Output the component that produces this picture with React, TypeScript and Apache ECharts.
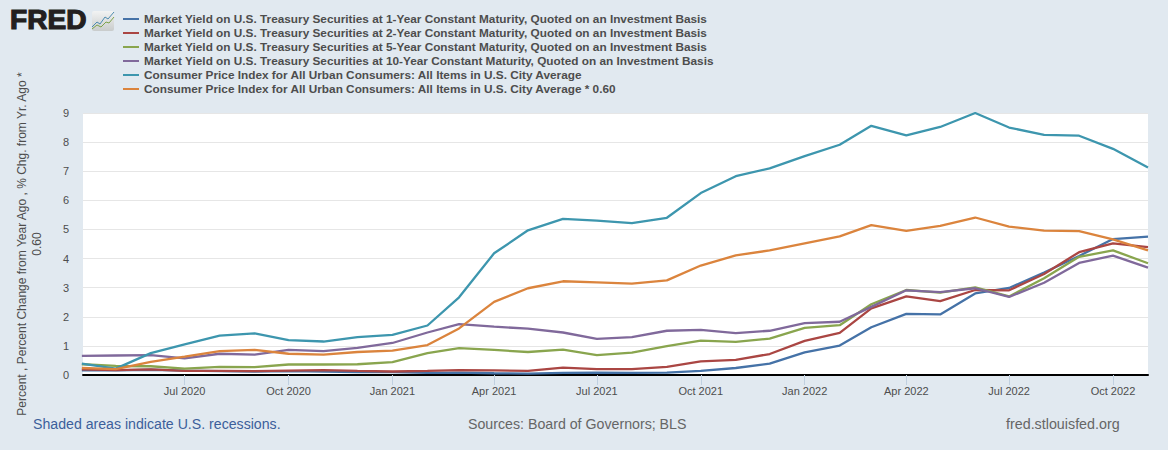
import React, { useEffect, useRef } from "react";
import * as echarts from "echarts";

const months = [
  "2020-04-01","2020-05-01","2020-06-01","2020-07-01","2020-08-01","2020-09-01","2020-10-01","2020-11-01","2020-12-01",
  "2021-01-01","2021-02-01","2021-03-01","2021-04-01","2021-05-01","2021-06-01","2021-07-01","2021-08-01","2021-09-01","2021-10-01","2021-11-01","2021-12-01",
  "2022-01-01","2022-02-01","2022-03-01","2022-04-01","2022-05-01","2022-06-01","2022-07-01","2022-08-01","2022-09-01","2022-10-01","2022-11-01",
];
const tickDates = ["2020-07-01","2020-10-01","2021-01-01","2021-04-01","2021-07-01","2021-10-01","2022-01-01","2022-04-01","2022-07-01","2022-10-01"];
const tickLabels = ["Jul 2020","Oct 2020","Jan 2021","Apr 2021","Jul 2021","Oct 2021","Jan 2022","Apr 2022","Jul 2022","Oct 2022"];

const y1 = [0.16,0.16,0.18,0.15,0.13,0.12,0.13,0.12,0.1,0.1,0.07,0.08,0.06,0.05,0.07,0.08,0.07,0.08,0.14,0.24,0.39,0.78,1.01,1.64,2.1,2.08,2.8,2.99,3.52,4.09,4.67,4.75];
const y2 = [0.19,0.17,0.19,0.14,0.14,0.13,0.15,0.17,0.14,0.12,0.14,0.17,0.16,0.14,0.25,0.2,0.2,0.28,0.47,0.52,0.72,1.17,1.45,2.29,2.7,2.54,2.92,2.91,3.47,4.22,4.52,4.39];
const y5 = [0.37,0.31,0.3,0.22,0.28,0.27,0.36,0.36,0.37,0.44,0.75,0.92,0.86,0.79,0.87,0.68,0.77,0.99,1.18,1.14,1.25,1.62,1.71,2.43,2.92,2.83,3.01,2.7,3.32,4.06,4.28,3.84];
const y10 = [0.66,0.67,0.68,0.57,0.73,0.7,0.86,0.82,0.93,1.1,1.46,1.75,1.66,1.59,1.46,1.24,1.3,1.52,1.55,1.44,1.52,1.78,1.83,2.34,2.91,2.85,2.98,2.68,3.17,3.85,4.1,3.69];
const cpi = [0.39,0.22,0.75,1.05,1.35,1.43,1.2,1.15,1.3,1.38,1.7,2.67,4.18,4.97,5.36,5.3,5.22,5.4,6.25,6.83,7.1,7.52,7.91,8.56,8.23,8.52,9.0,8.5,8.25,8.22,7.77,7.13];
const cpi60 = [0.24,0.2,0.45,0.63,0.82,0.86,0.73,0.7,0.79,0.84,1.03,1.6,2.51,2.98,3.22,3.18,3.14,3.25,3.76,4.11,4.28,4.52,4.76,5.15,4.95,5.12,5.41,5.1,4.96,4.94,4.66,4.28];

const seriesNames = [
  "Market Yield on U.S. Treasury Securities at 1-Year Constant Maturity, Quoted on an Investment Basis",
  "Market Yield on U.S. Treasury Securities at 2-Year Constant Maturity, Quoted on an Investment Basis",
  "Market Yield on U.S. Treasury Securities at 5-Year Constant Maturity, Quoted on an Investment Basis",
  "Market Yield on U.S. Treasury Securities at 10-Year Constant Maturity, Quoted on an Investment Basis",
  "Consumer Price Index for All Urban Consumers: All Items in U.S. City Average",
  "Consumer Price Index for All Urban Consumers: All Items in U.S. City Average * 0.60",
];
const seriesValues = [y1, y2, y5, y10, cpi, cpi60];
const colors = ["#4572a7", "#aa4643", "#89a54e", "#80699b", "#3d96ae", "#db843d"];
const yAxisTitle = "Percent , Percent Change from Year Ago , % Chg. from Yr. Ago *\n0.60";
const FONT = '"Liberation Sans", Arial, sans-serif';

const ms = (d: string) => Date.parse(d);
const tickMs = tickDates.map(ms);

export default function App() {
  const ref = useRef<HTMLDivElement>(null);
  useEffect(() => {
    const chart = echarts.init(ref.current!, null, { renderer: "svg" });
    chart.setOption({
      animation: false,
      backgroundColor: "#e1e9f0",
      textStyle: { fontFamily: FONT },
      color: colors,
      grid: { left: 83, right: 20, top: 113, bottom: 75, show: true, backgroundColor: "#ffffff", borderWidth: 0, outerBoundsMode: "none", containLabel: false },
      legend: {
        orient: "vertical",
        left: 123,
        top: 13,
        itemGap: 2,
        itemWidth: 16,
        itemHeight: 2,
        icon: "rect",
        selectedMode: false,
        textStyle: { color: "#4d4d4d", fontWeight: "bold", fontSize: 11.8, fontFamily: FONT, lineHeight: 12 },
        padding: 0,
      },
      xAxis: {
        type: "value",
        min: ms("2020-04-02"),
        max: ms(months[months.length - 1]),
        axisLine: { show: true, onZero: false, lineStyle: { color: "#000000", width: 2 } },
        axisTick: { show: true, length: 10, customValues: tickMs, lineStyle: { color: "#c0d0e0", width: 1 } },
        axisLabel: {
          customValues: tickMs,
          color: "#4d4d4d",
          fontSize: 11,
          margin: 10,
          formatter: (v: number) => tickLabels[tickMs.indexOf(v)] ?? "",
        },
        splitLine: { show: false },
      },
      yAxis: {
        type: "value",
        min: 0,
        max: 9,
        interval: 1,
        name: yAxisTitle,
        nameLocation: "middle",
        nameGap: 39,
        nameRotate: 90,
        nameTextStyle: { color: "#4d4d4d", fontSize: 12, lineHeight: 15, fontFamily: FONT },
        axisLine: { show: false },
        axisTick: { show: false },
        axisLabel: { color: "#4d4d4d", fontSize: 11, margin: 14 },
        splitLine: { show: true, lineStyle: { color: "#e6e6e6", width: 1 } },
      },
      series: seriesNames.map((name, i) => ({
        name,
        type: "line",
        showSymbol: false,
        symbol: "none",
        lineStyle: { width: 2.3, color: colors[i] },
        itemStyle: { color: colors[i] },
        data: months.map((m, j) => [ms(m), seriesValues[i][j]]),
      })),
      graphic: [
        { type: "text", left: 33, top: 417, style: { text: "Shaded areas indicate U.S. recessions.", fill: "#3c5f9b", font: `14.15px ${FONT}` } },
        { type: "text", left: 468, top: 417, style: { text: "Sources: Board of Governors; BLS", fill: "#666666", font: `14.2px ${FONT}` } },
        { type: "text", left: 1006, top: 417, style: { text: "fred.stlouisfed.org", fill: "#666666", font: `14.3px ${FONT}` } },
        { type: "text", x: 10, y: 6, scaleX: 1.04, style: { text: "FRED", fill: "#231f20", font: `bold 27px ${FONT}`, stroke: "#231f20", lineWidth: 1.2 } },
        {
          type: "rect",
          shape: { x: 92, y: 11, width: 22, height: 20, r: 2 },
          style: { fill: new echarts.graphic.LinearGradient(0, 0, 0, 1, [{ offset: 0, color: "#f2f3f3" }, { offset: 1, color: "#c9cccc" }]) },
        },
        { type: "polyline", shape: { points: [[92, 27], [97, 22], [100, 24], [105, 17], [108, 19], [114, 12]] }, style: { stroke: "#4c8bb0", fill: "none", lineWidth: 1 } },
        { type: "polyline", shape: { points: [[92, 29], [97, 25], [101, 27], [106, 22], [109, 23], [114, 17]] }, style: { stroke: "#7da34b", fill: "none", lineWidth: 1 } },
      ],
    });
    return () => chart.dispose();
  }, []);
  return <div ref={ref} style={{ position: "absolute", left: 0, top: 0, width: 1168, height: 450 }} />;
}
